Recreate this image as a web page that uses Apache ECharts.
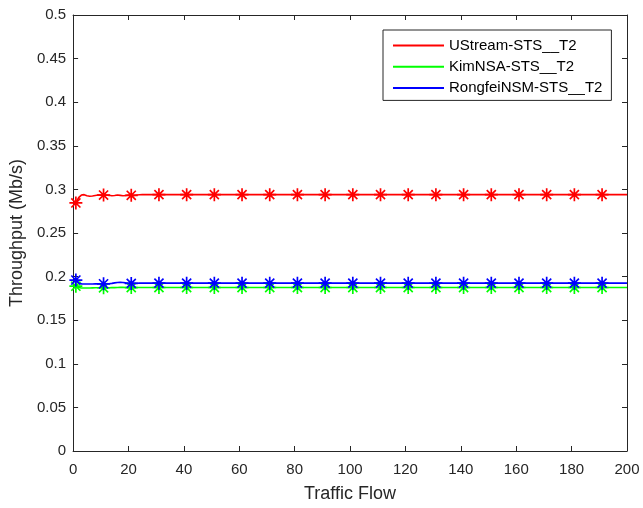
<!DOCTYPE html>
<html>
<head>
<meta charset="utf-8">
<script src="https://cdn.jsdelivr.net/npm/echarts@6/dist/echarts.min.js"></script>
<style>
html,body{margin:0;padding:0;background:#fff;}
#chart{width:643px;height:508px;}
</style>
</head>
<body>
<div id="chart"></div>
<script>
// Line samples (traffic flow)
var lineX = [1,2,3,4,5,6,7,8,9,10,11,12,13,14,15,16,17,18,19,20,21,22,23,24,25,26,27,28,29,30,40,50,60,70,80,90,100,110,120,130,140,150,160,170,180,190,200];
var ustream = [0.2845,0.2905,0.2935,0.2940,0.2928,0.2922,0.2925,0.2930,0.2935,0.2935,0.2935,0.2935,0.2932,0.2927,0.2930,0.2935,0.2931,0.2927,0.2930,0.2935,0.2932,0.2931,0.2935,0.2938,0.2940,0.2940,0.2940,0.2940,0.2940,0.2940,0.2940,0.2940,0.2940,0.2940,0.2940,0.2940,0.2940,0.2940,0.2940,0.2940,0.2940,0.2940,0.2940,0.2940,0.2940,0.2940,0.2940];
var kimnsa = [0.1890,0.1875,0.1870,0.1870,0.1870,0.1870,0.1871,0.1872,0.1872,0.1872,0.1872,0.1872,0.1872,0.1873,0.1874,0.1875,0.1876,0.1876,0.1875,0.1874,0.1874,0.1874,0.1875,0.1875,0.1875,0.1875,0.1875,0.1875,0.1875,0.1875,0.1875,0.1875,0.1875,0.1875,0.1875,0.1875,0.1875,0.1875,0.1875,0.1875,0.1875,0.1875,0.1875,0.1875,0.1875,0.1875,0.1875];
var rongfei = [0.1960,0.1930,0.1917,0.1915,0.1915,0.1915,0.1916,0.1917,0.1917,0.1917,0.1917,0.1917,0.1918,0.1922,0.1928,0.1933,0.1935,0.1933,0.1928,0.1924,0.1922,0.1922,0.1924,0.1925,0.1925,0.1925,0.1925,0.1925,0.1925,0.1925,0.1925,0.1925,0.1925,0.1925,0.1925,0.1925,0.1925,0.1925,0.1925,0.1925,0.1925,0.1925,0.1925,0.1925,0.1925,0.1925,0.1925];
// Marker samples
var markX = [1,11,21,31,41,51,61,71,81,91,101,111,121,131,141,151,161,171,181,191];
var ustreamMk = [0.2845,0.2935,0.2932,0.2940,0.2940,0.2940,0.2940,0.2940,0.2940,0.2940,0.2940,0.2940,0.2940,0.2940,0.2940,0.2940,0.2940,0.2940,0.2940,0.2940];
var kimnsaMk = [0.1890,0.1872,0.1874,0.1875,0.1875,0.1875,0.1875,0.1875,0.1875,0.1875,0.1875,0.1875,0.1875,0.1875,0.1875,0.1875,0.1875,0.1875,0.1875,0.1875];
var rongfeiMk = [0.1960,0.1917,0.1922,0.1925,0.1925,0.1925,0.1925,0.1925,0.1925,0.1925,0.1925,0.1925,0.1925,0.1925,0.1925,0.1925,0.1925,0.1925,0.1925,0.1925];
var seriesNames = ['UStream-STS__T2','KimNSA-STS__T2','RongfeiNSM-STS__T2'];
var colors = ['#ff0000','#00ff00','#0000ff'];
var xTitle = 'Traffic Flow';
var yTitle = 'Throughput (Mb/s)';

function zip(xs, ys){ return xs.map(function(x,i){ return [x, ys[i]]; }); }

var star = 'path://M8.7,0L11.3,0L11.3,20L8.7,20Z M0,8.7L20,8.7L20,11.3L0,11.3Z M3.9,2.1L17.9,16.1L16.1,17.9L2.1,3.9Z M16.1,2.1L17.9,3.9L3.9,17.9L2.1,16.1Z';
var font = 'Liberation Sans, Arial, Helvetica, sans-serif';
var axisColor = '#262626';

var lineData = [ustream, kimnsa, rongfei];
var markData = [ustreamMk, kimnsaMk, rongfeiMk];
var series = [];
for (var i = 0; i < 3; i++) {
  series.push({
    name: seriesNames[i], type: 'line', data: zip(lineX, lineData[i]),
    showSymbol: false, symbol: 'none', smooth: false,
    lineStyle: {color: colors[i], width: 1.6}, itemStyle: {color: colors[i]},
    z: 3, animation: false
  });
}
for (var j = 0; j < 3; j++) {
  series.push({
    name: seriesNames[j] + ' markers', type: 'scatter', data: zip(markX, markData[j]),
    symbol: star, symbolSize: 13, itemStyle: {color: colors[j], opacity: 1},
    z: 4, animation: false
  });
}

var chart = echarts.init(document.getElementById('chart'), null, {renderer: 'canvas'});
chart.setOption({
  backgroundColor: '#ffffff',
  animation: false,
  textStyle: {fontFamily: font},
  grid: {left: 72, right: 16, top: 15, bottom: 56, containLabel: false},
  legend: {
    data: seriesNames.map(function(n){ return {name: n, icon: 'rect'}; }),
    orient: 'vertical', left: 383, top: 30,
    itemWidth: 51, itemHeight: 2, itemGap: 6.2,
    padding: [8, 9, 5, 10],
    borderColor: axisColor, borderWidth: 1, backgroundColor: '#fff',
    textStyle: {fontSize: 15, color: '#000', fontFamily: font}
  },
  xAxis: [{
    type: 'value', min: 0, max: 200, interval: 20,
    name: xTitle, nameLocation: 'middle', nameGap: 34,
    nameTextStyle: {fontSize: 18, color: axisColor, fontFamily: font},
    axisLine: {show: true, onZero: false, lineStyle: {color: axisColor, width: 1}},
    axisTick: {show: true, inside: true, length: 5, lineStyle: {color: axisColor}},
    axisLabel: {fontSize: 15, color: axisColor, margin: 11, fontFamily: font},
    splitLine: {show: false}
  }, {
    type: 'value', min: 0, max: 200, interval: 20, position: 'top',
    axisLine: {show: true, onZero: false, lineStyle: {color: axisColor, width: 1}},
    axisTick: {show: true, inside: true, length: 5, lineStyle: {color: axisColor}},
    axisLabel: {show: false}, splitLine: {show: false}
  }],
  yAxis: [{
    type: 'value', min: 0, max: 0.5, interval: 0.05,
    name: yTitle, nameLocation: 'middle', nameGap: 46,
    nameTextStyle: {fontSize: 18, color: axisColor, fontFamily: font},
    axisLine: {show: true, onZero: false, lineStyle: {color: axisColor, width: 1}},
    axisTick: {show: true, inside: true, length: 5, lineStyle: {color: axisColor}},
    axisLabel: {fontSize: 15, color: axisColor, margin: 7, fontFamily: font},
    splitLine: {show: false}
  }, {
    type: 'value', min: 0, max: 0.5, interval: 0.05, position: 'right',
    axisLine: {show: true, onZero: false, lineStyle: {color: axisColor, width: 1}},
    axisTick: {show: true, inside: true, length: 5, lineStyle: {color: axisColor}},
    axisLabel: {show: false}, splitLine: {show: false}
  }],
  series: series
});
</script>
</body>
</html>
